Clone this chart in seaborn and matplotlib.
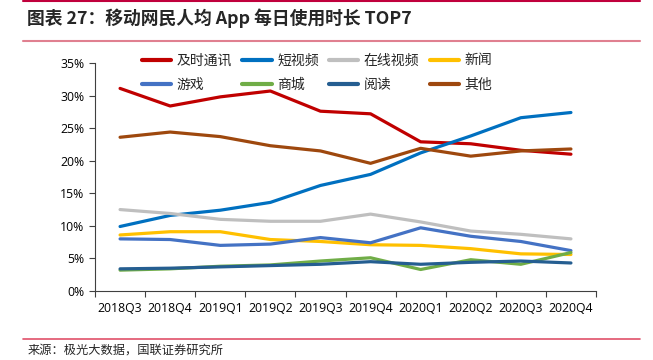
import numpy as np
import pandas as pd
import matplotlib
matplotlib.use("Agg")
import matplotlib.pyplot as plt
from matplotlib.lines import Line2D
from matplotlib.ticker import FixedLocator, NullFormatter, FuncFormatter
import seaborn as sns

# -----------------------------
# Data (% of daily usage time)
# -----------------------------
quarters = ["2018Q3", "2018Q4", "2019Q1", "2019Q2", "2019Q3",
            "2019Q4", "2020Q1", "2020Q2", "2020Q3", "2020Q4"]

im_chat = [31.1, 28.4, 29.8, 30.7, 27.6, 27.2, 22.9, 22.6, 21.6, 21.0]
short_video = [9.9, 11.6, 12.4, 13.6, 16.2, 17.9, 21.2, 23.8, 26.6, 27.4]
online_video = [12.5, 11.9, 11.0, 10.7, 10.7, 11.8, 10.6, 9.2, 8.7, 8.0]
news = [8.6, 9.1, 9.1, 7.9, 7.6, 7.1, 7.0, 6.5, 5.7, 5.6]
games = [8.0, 7.9, 7.0, 7.2, 8.2, 7.4, 9.7, 8.4, 7.6, 6.2]
shopping = [3.2, 3.4, 3.8, 4.0, 4.6, 5.1, 3.3, 4.8, 4.1, 5.9]
reading = [3.4, 3.5, 3.7, 3.9, 4.1, 4.5, 4.1, 4.4, 4.6, 4.3]
others = [23.6, 24.4, 23.7, 22.3, 21.5, 19.6, 21.9, 20.7, 21.5, 21.8]

series_names = ["及时通讯", "短视频", "在线视频", "新闻", "游戏", "商城", "阅读", "其他"]
series_values = [im_chat, short_video, online_video, news, games, shopping, reading, others]
colors = ["#C00000", "#0070C0", "#BFBFBF", "#FFC000",
          "#4472C4", "#70AD47", "#255E91", "#9E480E"]

# long-form table for seaborn
df = pd.DataFrame({
    "quarter": np.tile(np.arange(len(quarters)), len(series_names)),
    "value": np.concatenate(series_values),
    "app": np.repeat(series_names, len(quarters)),
})

# -----------------------------
# Style
# -----------------------------
sns.set_style("ticks")
plt.rcParams["font.family"] = ["Noto Sans CJK SC", "DejaVu Sans"]

fig = plt.figure(figsize=(6.53, 3.6), dpi=100)
ax = fig.add_axes([0.1455, 0.1917, 0.7672, 0.6333])

sns.lineplot(
    data=df, x="quarter", y="value", hue="app",
    hue_order=series_names, palette=colors,
    linewidth=2.3, ax=ax, legend=True,
)

# -----------------------------
# Axes
# -----------------------------
ax.set_xlim(-0.5, len(quarters) - 0.5)
ax.set_ylim(0, 35)
ax.set_yticks(np.arange(0, 36, 5))
ax.yaxis.set_major_formatter(FuncFormatter(lambda v, p: f"{v:.0f}%"))

ax.xaxis.set_major_locator(FixedLocator(np.arange(-0.5, len(quarters), 1)))
ax.xaxis.set_major_formatter(NullFormatter())
ax.xaxis.set_minor_locator(FixedLocator(np.arange(len(quarters))))
ax.set_xticklabels(quarters, minor=True)
ax.tick_params(axis="x", which="minor", length=0, pad=8)
ax.tick_params(axis="x", which="major", length=4, width=0.8, color="#404040")
ax.tick_params(axis="y", length=4, width=0.8, color="#404040")
ax.tick_params(labelsize=8.8, labelcolor="black", which="both")
for lbl in ax.get_xticklabels(minor=True) + ax.get_yticklabels():
    lbl.set_fontfamily(["Open Sans", "DejaVu Sans"])

ax.set_xlabel("")
ax.set_ylabel("")
for s in ["top", "right"]:
    ax.spines[s].set_visible(False)
for s in ["left", "bottom"]:
    ax.spines[s].set_color("#404040")
    ax.spines[s].set_linewidth(0.8)

# legend filled row by row, like the reference (matplotlib fills by column)
handles, labels = ax.get_legend_handles_labels()
order = [0, 4, 1, 5, 2, 6, 3, 7]
leg = ax.legend(
    [handles[i] for i in order], [labels[i] for i in order],
    ncol=4, loc="upper left", bbox_to_anchor=(0.085, 1.06),
    frameon=False, fontsize=10, handlelength=2.1,
    columnspacing=0.75, handletextpad=0.4, labelspacing=0.75,
    borderaxespad=0, borderpad=0.3,
)
for line in leg.get_lines():
    line.set_linewidth(3)
    line.set_solid_capstyle("round")

# -----------------------------
# Title, rules, source
# -----------------------------
fig.add_artist(Line2D([0.035, 0.98], [0.997, 0.997], color="#C0003C", lw=1.5))
fig.text(0.042, 0.95, "图表 27：移动网民人均 App 每日使用时长 TOP7",
         fontsize=12.8, fontweight="bold", va="center", ha="left",
         fontstyle="italic")
fig.add_artist(Line2D([0.035, 0.98], [0.886, 0.886], color="#E08090", lw=1.5))
fig.add_artist(Line2D([0.035, 0.98], [0.058, 0.058], color="#E0506A", lw=1.2))
fig.text(0.042, 0.028, "来源：极光大数据，国联证券研究所",
         fontsize=8.8, va="center", ha="left")

fig.savefig("out.png", dpi=100)
plt.close(fig)
